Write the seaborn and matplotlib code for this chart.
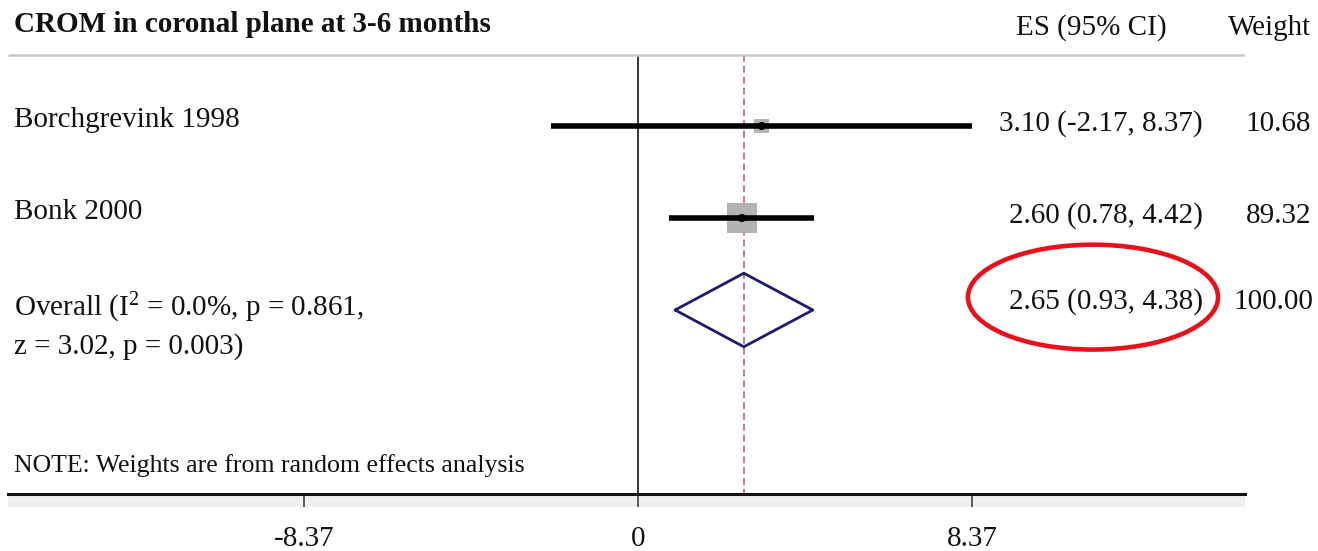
import matplotlib
matplotlib.use("Agg")
import matplotlib.pyplot as plt
from matplotlib.patches import Ellipse, Rectangle
import pandas as pd
import seaborn as sns

# data
titulo = "CROM in coronal plane at 3-6 months"
estudos = ["Borchgrevink 1998", "Bonk 2000"]
es = [3.10, 2.60]
ci_lo = [-2.17, 0.78]
ci_hi = [8.37, 4.42]
pesos = [10.68, 89.32]
overall_es = 2.65
overall_lo = 0.93
overall_hi = 4.38
overall_peso = 100.00
overall_label = [r"Overall ($\mathrm{I}^{2}$ = 0.0%, p = 0.861,", "z = 3.02, p = 0.003)"]
nota = "NOTE: Weights are from random effects analysis"
ticks = [-8.37, 0, 8.37]
tick_labels = ["-8.37", "0", "8.37"]

sns.set_theme(style="white")
plt.rcParams['font.family'] = ['Liberation Serif', 'DejaVu Serif']
plt.rcParams['mathtext.fontset'] = 'custom'
plt.rcParams['mathtext.rm'] = 'Liberation Serif'
plt.rcParams['mathtext.it'] = 'Liberation Serif:italic'
plt.rcParams['mathtext.bf'] = 'Liberation Serif:bold'

FS = 21
TXT = '#111111'

fig = plt.figure(figsize=(13.18, 5.51), dpi=100)
ax = fig.add_axes([8 / 1318, 57 / 551, 1237 / 1318, 492 / 551])

df = pd.DataFrame({'estudo': estudos, 'es': es, 'lo': ci_lo, 'hi': ci_hi,
                   'peso': pesos, 'linha': range(len(estudos))})
n = len(estudos)
topo = -0.77      # grey rule under the header
base = 4.0        # x axis row

# boxes sized by weight
sns.scatterplot(data=df, x='es', y='linha', size='peso', sizes=(115, 470),
                marker='s', color='#b3b3b3', edgecolor='none', legend=False,
                ax=ax, zorder=2)
ax.hlines(df['linha'], df['lo'], df['hi'], color='black', lw=4, zorder=3)
sns.scatterplot(data=df, x='es', y='linha', s=34, color='black',
                edgecolor='none', legend=False, ax=ax, zorder=4)

# overall diamond
yo = n
ax.plot([overall_lo, overall_es, overall_hi, overall_es, overall_lo],
        [yo, yo - 0.4, yo, yo + 0.4, yo], color='#1c1c6e', lw=2, zorder=3)

# reference lines
ax.vlines(0, topo, base, color='black', lw=1.1, zorder=1)
ax.vlines(overall_es, topo, base, color='#b8555c', lw=1.1,
          linestyle=(0, (4.5, 2.6)), zorder=1)
ax.hlines(topo, -15.79, 15.21, color='#c8c8c8', lw=1.8)

# text columns
x_lab = -15.64
x_es = 14.16
x_w = 16.87
ax.text(x_lab, -1.02, titulo, fontsize=FS, fontweight='bold', color=TXT, va='baseline')
ax.text(11.35, -0.99, "ES (95% CI)", fontsize=FS, color=TXT, ha='center', va='baseline')
ax.text(x_w, -0.99, "Weight", fontsize=FS, color=TXT, ha='right', va='baseline')

for i, row in df.iterrows():
    ax.text(x_lab, row['linha'] + 0.01, row['estudo'], fontsize=FS, color=TXT, va='baseline')
    ax.text(x_es, row['linha'] + 0.055, f"{row['es']:.2f} ({row['lo']:.2f}, {row['hi']:.2f})",
            fontsize=FS, color=TXT, ha='right', va='baseline')
    ax.text(x_w, row['linha'] + 0.055, f"{row['peso']:.2f}", fontsize=FS, color=TXT,
            ha='right', va='baseline')

ax.text(x_lab, yo + 0.065, overall_label[0], fontsize=FS, color=TXT, va='baseline')
ax.text(x_lab, yo + 0.48, overall_label[1], fontsize=FS, color=TXT, va='baseline')
ax.text(x_es, yo - 0.01, f"{overall_es:.2f} ({overall_lo:.2f}, {overall_hi:.2f})",
        fontsize=FS, color=TXT, ha='right', va='baseline')
ax.text(x_w + 0.05, yo - 0.01, f"{overall_peso:.2f}", fontsize=FS, color=TXT,
        ha='right', va='baseline')
ax.text(x_lab, 3.76, nota, fontsize=18.6, color=TXT, va='baseline')

# highlight around pooled estimate
ax.add_patch(Ellipse((11.40, 1.86), 6.27, 1.14, fill=False, ec='#e8101a', lw=3.3,
                     clip_on=False, zorder=5))

# x axis
ax.set_xlim(-15.79, 15.21)
ax.set_ylim(base, -1.348)
ax.set_xticks(ticks)
ax.set_xticklabels(tick_labels)
ax.set_yticks([])
ax.set_xlabel('')
ax.set_ylabel('')
sns.despine(ax=ax, left=True)
ax.spines['bottom'].set_color('#111111')
ax.spines['bottom'].set_linewidth(2.2)
ax.tick_params(axis='x', direction='out', length=9.4, width=1.1, color='#333333',
               pad=14, labelsize=FS, labelcolor=TXT, bottom=True)
ax.add_patch(Rectangle((0, 0), 1, -13 / 492, transform=ax.transAxes, color='#efefef',
                       clip_on=False, zorder=0, lw=0))

fig.savefig('out.png', dpi=100)
